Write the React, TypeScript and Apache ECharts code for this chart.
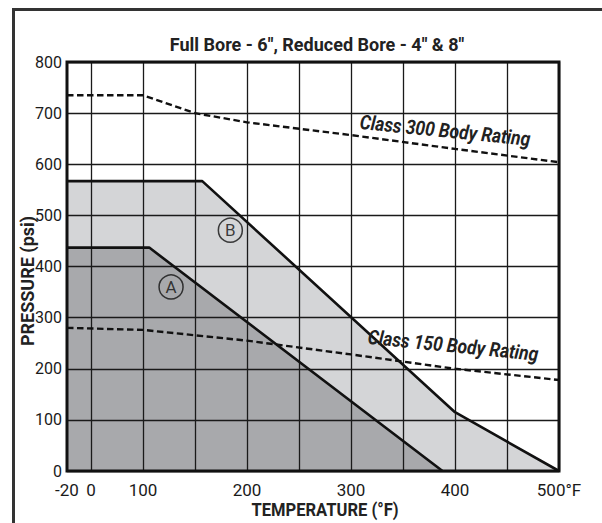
import React, { useEffect, useRef } from "react";
import * as echarts from "echarts";

// Temperature (°F) grid positions and labels
const tempGridTicks = [0, 100, 150, 200, 250, 300, 350, 400, 450, 500];
const tempLabelTicks = [-20, 0, 100, 200, 300, 400, 500];
// Pressure axis
const pressureMin = 0;
const pressureMax = 800;
const pressureStep = 100;

// Region A (dark) and region B (light) boundaries: [temp °F, pressure psi]
const curveA = [[-20, 437], [106, 437], [388, 0]];
const curveB = [[-20, 567], [157, 567], [400, 115], [500, 0]];
// Body ratings (dashed)
const class300 = [[-20, 735], [100, 735], [150, 700], [200, 682], [300, 657], [400, 630], [500, 604]];
const class150 = [[-20, 280], [100, 276], [200, 255], [300, 228], [400, 200], [500, 178]];
// Circled region markers
const markerNames = ["A", "B"];
const markerTemps = [127, 184];
const markerPressures = [360, 471];

const titleText = 'Full Bore - 6", Reduced Bore - 4" & 8"';
const xName = "TEMPERATURE (°F)";
const yName = "PRESSURE (psi)";
const class300Label = "Class 300 Body Rating";
const class150Label = "Class 150 Body Rating";

// The chart's temperature scale is piecewise: -20..0, 0..100 and 50° steps after that
const LEFT_GAP = 0.461;
function pos(t: number): number {
  if (t <= 0) return (t / 20) * LEFT_GAP;
  if (t <= 100) return t / 100;
  return 1 + (t - 100) / 50;
}

const FONT = "Roboto, sans-serif";

const G_LEFT = 67;
const G_TOP = 62;
const G_RIGHT = 43;
const G_BOTTOM = 52;
const W = 602;
const H = 523;

export default function App() {
  const ref = useRef<HTMLDivElement>(null);
  useEffect(() => {
    document.body.style.margin = "0";
    if (!ref.current) return;
    const chart = echarts.init(ref.current, undefined, { renderer: "svg" });
    const toPts = (arr: number[][]) => arr.map((d) => [pos(d[0]), d[1]]);
    const gw = W - G_LEFT - G_RIGHT;
    const gh = H - G_TOP - G_BOTTOM;
    const txt = (
      text: string,
      x: number,
      y: number,
      size: number,
      sx: number,
      rotation = 0,
      italic = false
    ) => ({
      type: "text",
      z: 100,
      x,
      y,
      rotation,
      scaleX: sx,
      style: {
        text,
        fontFamily: FONT,
        fontWeight: "bold",
        fontStyle: italic ? "italic" : "normal",
        fontSize: size,
        fill: "#222",
        align: "center",
        verticalAlign: "middle",
      },
    });
    chart.setOption({
      animation: false,
      backgroundColor: "#ffffff",
      grid: { left: G_LEFT, top: G_TOP, right: G_RIGHT, bottom: G_BOTTOM, containLabel: false },
      xAxis: {
        type: "value",
        min: pos(-20),
        max: pos(500),
        z: 3,
        axisLine: { show: false },
        axisTick: { show: false, customValues: tempGridTicks.map(pos) },
        splitLine: { show: true, lineStyle: { color: "#1a1a1a", width: 1.3 } },
        axisLabel: {
          customValues: tempLabelTicks.map(pos),
          formatter: (v: number) => {
            const t = tempLabelTicks.find((tt) => Math.abs(pos(tt) - v) < 1e-6);
            if (t === undefined) return "";
            return t === 500 ? "500°F" : String(t);
          },
          fontFamily: FONT,
          fontSize: 17,
          color: "#1a1a1a",
          margin: 10,
        },
      },
      yAxis: {
        type: "value",
        min: pressureMin,
        max: pressureMax,
        interval: pressureStep,
        z: 3,
        axisLine: { show: false },
        axisTick: { show: false },
        splitLine: { show: true, lineStyle: { color: "#1a1a1a", width: 1.3 } },
        axisLabel: { fontFamily: FONT, fontSize: 16, color: "#1a1a1a", margin: 5 },
      },
      series: [
        {
          type: "line",
          data: toPts(curveB),
          symbol: "none",
          z: 1,
          lineStyle: { width: 0 },
          areaStyle: { color: "#d4d5d7", opacity: 1 },
        },
        {
          type: "line",
          data: toPts(curveA),
          symbol: "none",
          z: 1,
          lineStyle: { width: 0 },
          areaStyle: { color: "#a8a9ac", opacity: 1 },
        },
        {
          type: "line",
          data: toPts(curveB),
          symbol: "none",
          z: 5,
          lineStyle: { width: 2.6, color: "#111" },
        },
        {
          type: "line",
          data: toPts(curveA),
          symbol: "none",
          z: 5,
          lineStyle: { width: 2.6, color: "#111" },
        },
        {
          type: "line",
          data: toPts(class300),
          symbol: "none",
          z: 5,
          lineStyle: { width: 2.4, color: "#111", type: [6.5, 3.5] },
        },
        {
          type: "line",
          data: toPts(class150),
          symbol: "none",
          z: 5,
          lineStyle: { width: 2.4, color: "#111", type: [6.5, 3.5] },
        },
        {
          type: "scatter",
          z: 6,
          symbol: "circle",
          symbolSize: 24,
          itemStyle: { color: "rgba(0,0,0,0)", borderColor: "#111", borderWidth: 1.5 },
          label: {
            show: true,
            position: "inside",
            formatter: "{b}",
            fontFamily: FONT,
            fontSize: 17,
            color: "#111",
          },
          data: markerNames.map((n, i) => ({ name: n, value: [pos(markerTemps[i]), markerPressures[i]] })),
        },
      ],
      graphic: [
        {
          type: "polyline",
          z: 100,
          shape: { points: [[13.5, H + 10], [13.5, 9.5], [W + 10, 9.5]] },
          style: { fill: null, stroke: "#333", lineWidth: 3 },
        },
        {
          type: "rect",
          z: 100,
          shape: { x: G_LEFT, y: G_TOP, width: gw, height: gh },
          style: { fill: null, stroke: "#111", lineWidth: 3 },
        },
        txt(titleText, 317, 44, 18, 1.0),
        txt(xName, 325, 510, 18, 0.92),
        txt(yName, 27, 281, 18, 1.0, Math.PI / 2),
        txt(class300Label, 445, 131, 20, 0.87, -0.1, true),
        txt(class150Label, 453, 346, 20, 0.87, -0.1, true),
      ],
    });
    return () => chart.dispose();
  }, []);
  return <div ref={ref} style={{ width: W, height: H }} />;
}
